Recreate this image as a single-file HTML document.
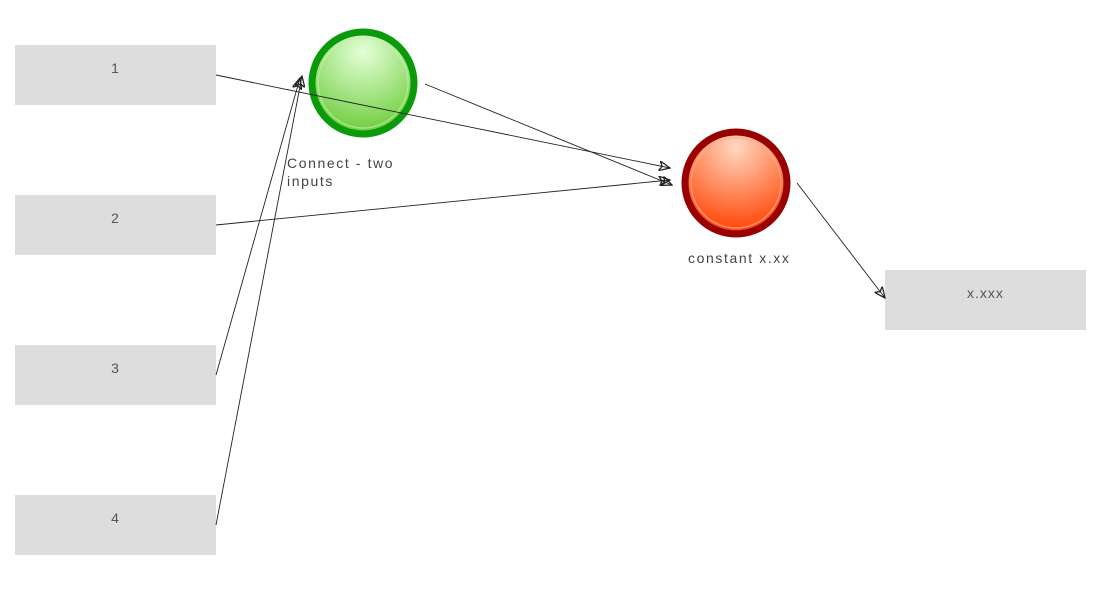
<!DOCTYPE html>
<html><head><style>
body{margin:0;width:1100px;height:600px;background:#fff;position:relative;overflow:hidden;font-family:"Liberation Sans",sans-serif;}
.b{position:absolute;width:201px;height:60px;background:#dddddd;color:#555;font-size:14px;text-align:center;line-height:46px;letter-spacing:1px;}
.t{position:absolute;font-size:14px;color:#444;letter-spacing:1.6px;}
</style></head><body>
<div class="b" style="left:15px;top:45px">1</div>
<div class="b" style="left:15px;top:195px">2</div>
<div class="b" style="left:15px;top:345px">3</div>
<div class="b" style="left:15px;top:495px">4</div>
<div class="b" style="left:885px;top:270px">x.xxx</div>
<svg width="1100" height="600" style="position:absolute;left:0;top:0">
<defs>
<radialGradient id="g" cx="0.5" cy="0.2" r="0.8"><stop offset="0" stop-color="#e4ffd8"/><stop offset="1" stop-color="#6ccc3a"/></radialGradient>
<radialGradient id="r" cx="0.5" cy="0.15" r="0.85"><stop offset="0" stop-color="#ffd8c0"/><stop offset="1" stop-color="#ff4000"/></radialGradient>
<marker id="a" markerWidth="12" markerHeight="10" refX="11" refY="5" orient="auto" markerUnits="userSpaceOnUse"><path d="M0,0 L11,5 L0,10 L3,5 Z" fill="none" stroke="#222" stroke-width="1.3"/></marker>
</defs>
<circle cx="363" cy="83" r="51" fill="url(#g)" stroke="#0a9a0a" stroke-width="7"/>
<circle cx="363" cy="83" r="45" fill="none" stroke="#c8f0b0" stroke-width="1.5" opacity="0.6"/>
<circle cx="736" cy="183" r="51" fill="url(#r)" stroke="#990000" stroke-width="7"/>
<circle cx="736" cy="183" r="45" fill="none" stroke="#ffb090" stroke-width="1.5" opacity="0.7"/>
<g stroke="#222" stroke-width="0.9" fill="none">
<line x1="216" y1="75" x2="670" y2="168" marker-end="url(#a)"/>
<line x1="216" y1="225" x2="670" y2="180" marker-end="url(#a)"/>
<line x1="216" y1="375" x2="300" y2="78" marker-end="url(#a)"/>
<line x1="216" y1="525" x2="302" y2="76" marker-end="url(#a)"/>
<line x1="425" y1="84" x2="672" y2="185" marker-end="url(#a)"/>
<line x1="797" y1="183" x2="885" y2="298" marker-end="url(#a)"/>
</g>
</svg>
<div class="t" style="left:287px;top:154px;line-height:18px">Connect - two<br>inputs</div>
<div class="t" style="left:688px;top:250px">constant x.xx</div>
</body></html>
